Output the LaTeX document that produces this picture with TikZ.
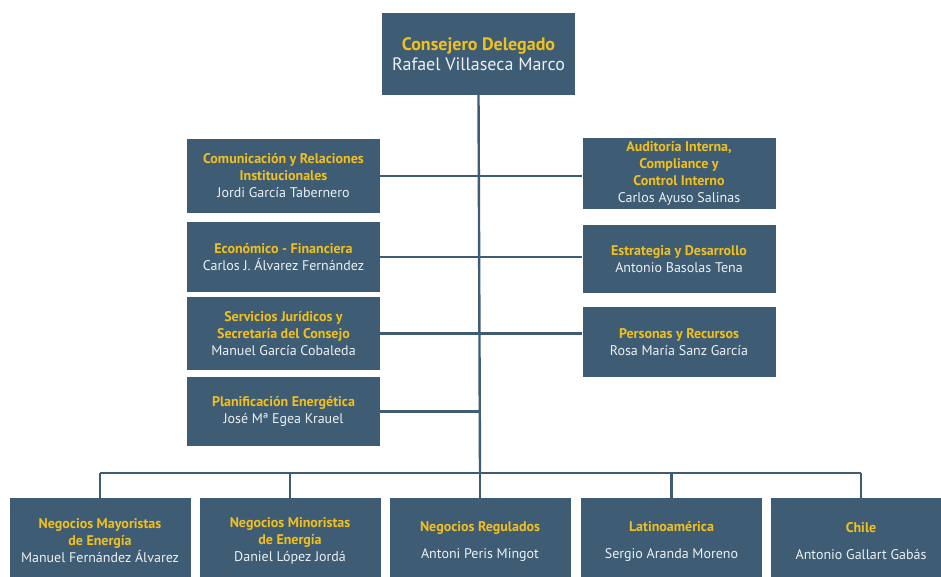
\documentclass[tikz,border=0pt]{standalone}
\usepackage{fontspec}
\setmainfont{PT Sans}
\usepackage{tikz}
\usetikzlibrary{calc, positioning}

\definecolor{pizarra}{RGB}{62,93,116}
\definecolor{oro}{RGB}{242,192,28}
\definecolor{blanco}{RGB}{236,240,243}

\newcommand{\cargo}[1]{{\color{oro}\bfseries #1}}

\tikzset{
  caja/.style={fill=pizarra, text=blanco, align=center, inner sep=1pt,
    minimum width=193pt, font=\fontsize{14}{17}\selectfont},
  cajab/.style={caja, minimum width=181pt, minimum height=86pt},
  linea/.style={draw=pizarra, line width=2.4pt}
}

\begin{document}
\begin{tikzpicture}[x=1pt, y=-1pt]
    \useasboundingbox (0,0) rectangle (941,576);

    % vertice
    \node[caja, minimum height=82pt, font=\fontsize{18}{20.5}\selectfont] (cd) at (478.5,54)
        {\cargo{Consejero Delegado}\\Rafael Villaseca Marco};

    % colonna sinistra
    \node[caja, minimum height=74pt] (com) at (283.5,176)
        {\cargo{Comunicación y Relaciones}\\\cargo{Institucionales}\\Jordi García Tabernero};
    \node[caja, minimum height=70pt] (eco) at (283.5,257)
        {\cargo{Económico - Financiera}\\Carlos J. Álvarez Fernández};
    \node[caja, minimum height=73pt] (jur) at (283.5,333.5)
        {\cargo{Servicios Jurídicos y}\\\cargo{Secretaría del Consejo}\\Manuel García Cobaleda};
    \node[caja, minimum height=69pt] (pla) at (283.5,411.5)
        {\cargo{Planificación Energética}\\José Mª Egea Krauel};

    % colonna destra
    \node[caja, minimum height=71pt] (aud) at (679,173.5)
        {\cargo{Auditoría Interna,}\\\cargo{Compliance y}\\\cargo{Control Interno}\\Carlos Ayuso Salinas};
    \node[caja, minimum height=68pt] (est) at (679,259)
        {\cargo{Estrategia y Desarrollo}\\Antonio Basolas Tena};
    \node[caja, minimum height=70pt] (per) at (679,342)
        {\cargo{Personas y Recursos}\\Rosa María Sanz García};

    % negocios
    \node[cajab] (may) at (100,541)
        {\cargo{Negocios Mayoristas}\\\cargo{de Energía}\\Manuel Fernández Álvarez};
    \node[cajab] (min) at (290,541)
        {\cargo{Negocios Minoristas}\\\cargo{de Energía}\\Daniel López Jordá};
    \node[cajab] (reg) at (480,541)
        {\cargo{Negocios Regulados}\\[10pt]Antoni Peris Mingot};
    \node[cajab] (lat) at (671.5,541)
        {\cargo{Latinoamérica}\\[10pt]Sergio Aranda Moreno};
    \node[cajab] (chi) at (861,541)
        {\cargo{Chile}\\[10pt]Antonio Gallart Gabás};

    % collegamenti
    \coordinate (bus) at (480,473);
    \draw[linea] (cd.south) -- (bus);
    \draw[linea] (com.east) -- (aud.west |- com.east);
    \draw[linea] (eco.east) -- (est.west |- eco.east);
    \draw[linea] (jur.east) -- (per.west |- jur.east);
    \draw[linea] (pla.east) -- (bus |- pla.east);
    \draw[linea] (may.north |- bus) -- (chi.north |- bus);
    \foreach \n in {may, min, reg, lat, chi}
        \draw[linea] (\n.north |- bus) -- (\n.north);
\end{tikzpicture}
\end{document}
